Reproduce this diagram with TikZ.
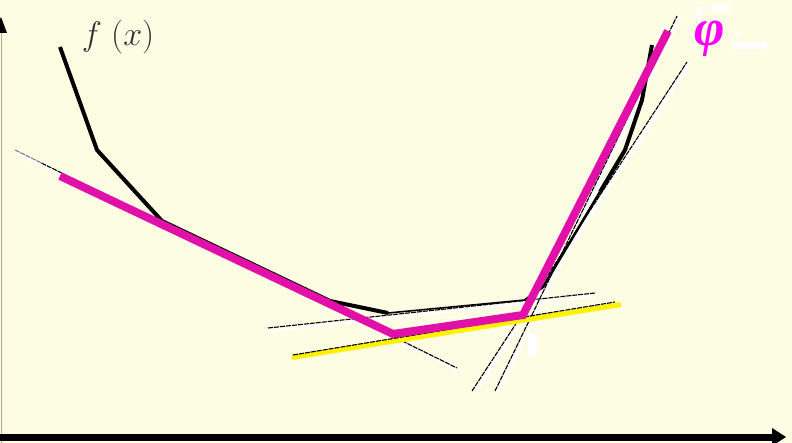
\documentclass[tikz,border=0pt]{standalone}
\usepackage{fix-cm}
\usepackage{fontspec}
\newfontfamily\timesf{Liberation Serif}
\usetikzlibrary{arrows.meta,calc}
\definecolor{bg}{RGB}{253,253,227}
\definecolor{phimag}{RGB}{224,16,168}
\definecolor{philab}{RGB}{250,0,250}
\definecolor{axisgray}{RGB}{180,172,140}
\definecolor{fgray}{RGB}{50,50,50}
\begin{document}
\begin{tikzpicture}[x=1pt,y=-1pt,
  shadowline/.style={white, line width=2.6pt},
  tline/.style={black, line width=1.1pt, dash pattern=on 5pt off 1pt},
  fcurve/.style={black, line width=4pt, line join=round},
  phicurve/.style={phimag, line width=8pt, line join=miter},
  yband/.style={yellow, line width=5pt},
  artefact/.style={fill=white, draw=none},
  lbl/.style={inner sep=0pt}]
\fill[bg] (0,0) rectangle (792,443);
\useasboundingbox (0,0) rectangle (792,443);
% coordinates
\coordinate (L1a) at (15,150);   \coordinate (L1b) at (457,368);
\coordinate (L2a) at (268,328);  \coordinate (L2b) at (595,293);
\coordinate (Ya) at (292,355);   \coordinate (Yb) at (621,302);
\coordinate (Aa) at (472,391);   \coordinate (Ab) at (687,62);
\coordinate (Ba) at (495,391);   \coordinate (Bb) at (677,16);
\coordinate (L1m) at ($(L1a)!0.06!(L1b)$);
% axes
\draw[axisgray, line width=1pt] (1.5,443) -- (1.5,30);
\fill[black] (1,17) -- (-6,33) -- (7,33) -- cycle;
\draw[black, line width=7pt] (0,437) -- (776,437);
\fill[black] (786,437) -- (772,428) -- (772,446) -- cycle;
% white shadows of thin lines
\draw[shadowline] ([shift={(1.5,2.5)}]L1a) -- ([shift={(1.5,2.5)}]L1b);
\draw[shadowline] ([shift={(0,3)}]L2a) -- ([shift={(0,3)}]L2b);
\draw[shadowline, line width=3.5pt] ([shift={(3,1)}]Aa) -- ([shift={(3,1)}]Ab);
\draw[shadowline, line width=3.5pt] ([shift={(3,1)}]Ba) -- ([shift={(3,1)}]Bb);
% thin tangent lines
\draw[tline, gray] (L1a) -- (L1m);
\draw[tline] (L1m) -- (L1b);
\draw[tline] (L2a) -- (L2b);
\draw[tline] (Aa) -- (Ab);
\draw[tline] (Ba) -- (Bb);
% yellow line
\draw[yband] ([shift={(0,2.5)}]Ya) -- ([shift={(0,2.5)}]Yb);
\draw[tline] ([shift={(1,0)}]Ya) -- ([shift={(-6,0)}]Yb);
% the function f
\draw[fcurve] (60,47) -- (97,150) -- (162,221) -- (330,301) -- (388,313);
\draw[black, line width=1.6pt] (388,313) -- (525,300);
\draw[black, line width=2.5pt, line join=round] (525,300) -- (543,287) -- (600,192);
\draw[fcurve] (600,192) -- (625,150) -- (642,100) -- (652,45);
% the piecewise linear phi
\draw[phicurve] (60,176) -- (393,334) -- (523,315) -- (668,31);
% white artefacts
\fill[artefact] (696,7) rectangle (702,21);
\fill[artefact] (708,5) rectangle (729,11);
\fill[artefact] (734,31) rectangle (740,36);
\fill[artefact] (733,42) rectangle (767,49);
\fill[artefact] (528,333) rectangle (538,355);
% labels
\node[lbl, text=fgray, font=\fontsize{34}{38}\selectfont] (flab) at (118,37) {$f\;(x)$};
\node[lbl, text=philab, anchor=base, font=\timesf\bfseries\itshape\fontsize{52}{52}\selectfont] (philabel) at (710,46) {φ};
\end{tikzpicture}
\end{document}
